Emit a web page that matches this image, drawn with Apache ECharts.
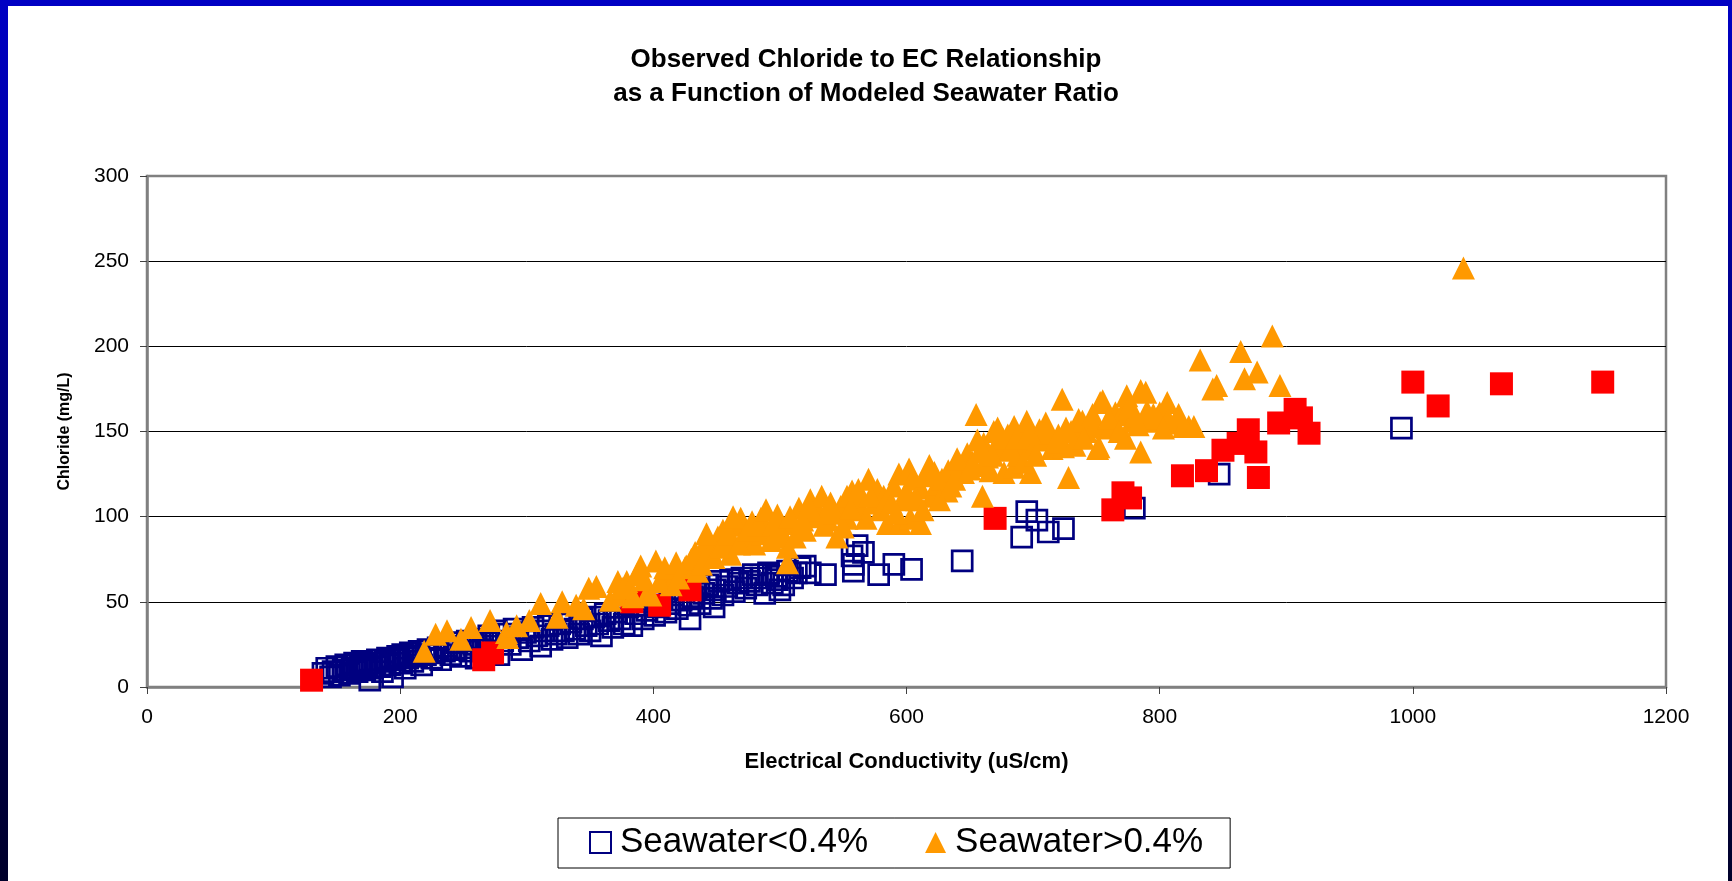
<!DOCTYPE html>
<html>
<head>
<meta charset="utf-8">
<script src="https://cdn.jsdelivr.net/npm/echarts@6/dist/echarts.min.js"></script>
<style>
  html, body { margin: 0; padding: 0; width: 1732px; height: 881px; overflow: hidden; }
  #frame { position: absolute; left: 0; top: 0; width: 1732px; height: 881px; background: linear-gradient(#0000c4, #00002a); }
  #inner { position: absolute; left: 8px; top: 6px; width: 1720px; height: 875px; background: #ffffff; }
  #chart { position: absolute; left: 0; top: 0; width: 1732px; height: 881px; }
</style>
</head>
<body>
<div id="frame"></div>
<div id="inner"></div>
<div id="chart"></div>
<script>
// ---- Data (EC uS/cm, Chloride mg/L) ----
const titleLines = ['Observed Chloride to EC Relationship', 'as a Function of Modeled Seawater Ratio'];
const xAxisName = 'Electrical Conductivity (uS/cm)';
const yAxisName = 'Chloride (mg/L)';
const legendNames = ['Seawater<0.4%', 'Seawater>0.4%'];
const otherName = 'Seawater (other)';

const seawaterLow = [
  [139,8],[142,11],[145,6],[147,9],[150,12],[152,7],[155,10],[157,13],[160,8],[162,11],[164,14],[166,9],[168,12],[170,15],
  [172,10],[174,13],[176,4],[178,11],[180,14],[182,16],[184,12],[186,9],[188,15],[190,17],[192,13],[194,6],[196,16],[198,18],[200,14],
  [202,19],[204,11],[206,17],[208,20],[210,15],[213,18],[215,21],[217,13],[220,19],[222,22],[225,17],[227,20],[230,23],[232,16],
  [235,21],[237,24],[240,19],[243,22],[245,26],[248,18],[250,23],[253,27],[255,21],[258,25],[260,17],
  [263,28],[265,22],[268,26],[270,30],[273,24],[276,33],[278,19],[281,27],[284,31],[287,25],[290,34],[293,29],[296,22],[299,32],
  [302,27],[305,35],[308,30],[311,24],[314,33],[317,36],[320,28],[323,31],[326,37],[329,33],[332,29],[335,38],[338,34],
  [341,31],[344,40],[347,36],[350,33],[353,41],[356,37],[359,30],[362,43],[365,39],[368,35],[371,44],[374,40],[377,37],[380,47],
  [383,36],[386,43],[389,48],[392,40],[395,45],[398,50],[401,42],[404,47],[407,52],[410,44],[413,49],[416,54],[419,46],[422,51],
  [425,57],[428,48],[431,53],[434,58],[437,49],[440,55],[443,60],[446,52],[449,57],[452,62],[455,54],[458,59],[461,63],[464,56],
  [467,61],[470,64],[473,58],[476,62],[479,66],[482,60],[485,64],[488,55],[491,67],[494,61],[497,65],[503,60],[506,68],[510,64],[516,70],
  [429,40],[448,47],[500,57],[498,63],[491,66],[513,67],[520,71],[524,67],[536,66],[557,77],[558,72],[558,68],[561,83],[566,79],
  [578,66],[590,72],[604,69],[644,74],[691,88],[695,103],[703,98],[712,91],[724,93],[780,105],[847,125],[991,152]
];

const seawaterOther = [
  [130,4],[266,16],[273,20],[383,50],[405,48],[429,57],[670,99],[763,104],[771,114],[777,111],[818,124],[837,127],
  [850,139],[862,143],[870,151],[876,138],[878,123],[894,155],[907,163],[912,158],[918,149],[1000,179],[1020,165],[1070,178],[1150,179]
];

const seawaterHigh = [
  [219,21],[228,31],[237,33],[248,28],[256,35],[271,39],[284,32],[285,29],[292,36],[302,39],[311,49],[324,41],[328,50],[339,48],
  [345,46],[349,58],[355,59],[366,51],[372,54],[379,62],[384,53],[390,71],[396,56],[398,54],[402,74],[414,66],[414,60],[425,70],
  [426,71],[430,75],[435,68],[440,83],[445,80],[451,88],[455,92],[458,85],[461,78],[465,95],[469,99],[472,88],[478,97],[480,84],
  [485,99],[486,90],[491,91],[493,86],[498,101],[500,93],[506,82],[506,73],[510,96],[515,105],[520,92],[524,110],[527,100],
  [530,104],[533,112],[538,98],[540,108],[545,88],[548,106],[553,112],[553,99],[557,115],[560,110],[565,104],[568,99],[570,122],
  [575,108],[577,116],[582,112],[585,96],[590,118],[594,125],[595,96],[598,110],[602,128],[603,99],[605,122],[611,96],[611,117],
  [615,124],[618,130],[620,112],[624,119],[628,122],[632,115],[633,127],[638,122],[643,130],[645,126],[648,137],[652,132],
  [655,160],[658,138],[660,112],[661,143],[664,135],[666,127],[669,150],[670,141],[675,139],[676,146],[677,126],[680,148],
  [685,153],[685,129],[688,136],[690,142],[693,146],[695,156],[698,126],[700,140],[705,151],[708,145],[713,149],[715,140],
  [720,148],[723,169],[724,141],[728,123],[730,150],[735,147],[736,157],[739,156],[742,150],[745,156],[748,153],[751,140],
  [752,141],[753,167],[755,168],[758,152],[763,155],[765,161],[770,160],[773,146],[774,171],[778,156],[781,159],[785,138],
  [785,174],[789,173],[793,156],[795,160],[800,161],[806,167],[807,157],[812,155],[819,153],[823,153],[827,153],[832,192],
  [842,175],[845,177],[864,197],[867,181],[877,185],[889,206],[895,177],[1040,246],
  [372,62],[376,58],[387,66],[393,63],[405,62],[409,70],[418,73],[420,64],[433,79],[438,72],[442,90],[448,76],[453,82],
  [460,90],[463,100],[468,84],[475,92],[483,95],[489,104],[495,96],[503,88],[508,100],[512,88],[518,98],[523,106],[535,95],
  [543,102],[550,94],[556,105],[562,116],[572,112],[580,104],[588,108],[592,102],[600,115],[608,110],[613,104],[622,126],
  [626,110],[635,118],[640,134],[650,128],[656,145],[663,130],[668,136],[672,152],[682,140],[687,146],[692,132],[697,150],
  [702,136],[710,155],[718,144],[726,152],[733,142],[740,146],[747,160],[760,158],[768,150],[776,165],[783,154],[790,162],
  [798,158],[803,152],[815,160]
];

const xTicks = { min: 0, max: 1200, interval: 200 };
const yTicks = { min: 0, max: 300, interval: 50 };

const FONT = "'Liberation Sans', Arial, sans-serif";
const chart = echarts.init(document.getElementById('chart'), null, { renderer: 'canvas' });

chart.setOption({
  animation: false,
  backgroundColor: 'transparent',
  title: {
    text: titleLines.join('\n'),
    left: 'center',
    top: 43,
    padding: 0,
    textStyle: { fontFamily: FONT, fontSize: 26, fontWeight: 'bold', color: '#000', lineHeight: 34 }
  },
  legend: {
    data: legendNames,
    left: 558,
    top: 818,
    orient: 'horizontal',
    padding: [7, 27, 8, 31],
    itemGap: 57,
    itemWidth: 21,
    itemHeight: 21,
    borderColor: '#000',
    borderWidth: 1,
    backgroundColor: '#fff',
    textStyle: { fontFamily: FONT, fontSize: 35, color: '#000', padding: [0, 0, 0, 4] }
  },
  grid: {
    left: 147, right: 66, top: 176, bottom: 194,
    show: true, borderColor: '#808080', borderWidth: 2.5, backgroundColor: 'transparent'
  },
  xAxis: {
    type: 'value',
    min: xTicks.min, max: xTicks.max, interval: xTicks.interval,
    name: xAxisName, nameLocation: 'middle', nameGap: 64,
    nameTextStyle: { fontFamily: FONT, fontSize: 22, fontWeight: 'bold', color: '#000' },
    axisLine: { show: true, lineStyle: { color: '#808080', width: 2.5 } },
    axisTick: { show: true, length: 7, lineStyle: { color: '#404040', width: 1 } },
    axisLabel: { fontFamily: FONT, fontSize: 21, color: '#000', margin: 20, formatter: (v) => String(v) },
    splitLine: { show: false }
  },
  yAxis: {
    type: 'value',
    min: yTicks.min, max: yTicks.max, interval: yTicks.interval,
    name: yAxisName, nameLocation: 'middle', nameGap: 74, nameRotate: 90,
    nameTextStyle: { fontFamily: FONT, fontSize: 16, fontWeight: 'bold', color: '#000' },
    axisLine: { show: true, lineStyle: { color: '#808080', width: 2.5 } },
    axisTick: { show: true, length: 7, lineStyle: { color: '#404040', width: 1 } },
    axisLabel: { fontFamily: FONT, fontSize: 21, color: '#000', margin: 18, formatter: (v) => String(v) },
    splitLine: { show: true, showMinLine: false, showMaxLine: false, lineStyle: { color: '#000', width: 1 } }
  },
  series: [
    {
      name: legendNames[0], type: 'scatter', data: seawaterLow,
      symbol: 'rect', symbolSize: 20,
      itemStyle: { color: 'rgba(255,255,255,0)', borderColor: '#000080', borderWidth: 2.7, opacity: 1 },
      emphasis: { disabled: true }
    },
    {
      name: otherName, type: 'scatter', data: seawaterOther,
      symbol: 'rect', symbolSize: 23,
      itemStyle: { color: '#ff0000', opacity: 1 },
      emphasis: { disabled: true }
    },
    {
      name: legendNames[1], type: 'scatter', data: seawaterHigh,
      symbol: 'triangle', symbolSize: 23,
      itemStyle: { color: '#ff9900', opacity: 1 },
      emphasis: { disabled: true }
    }
  ]
});
</script>
</body>
</html>
